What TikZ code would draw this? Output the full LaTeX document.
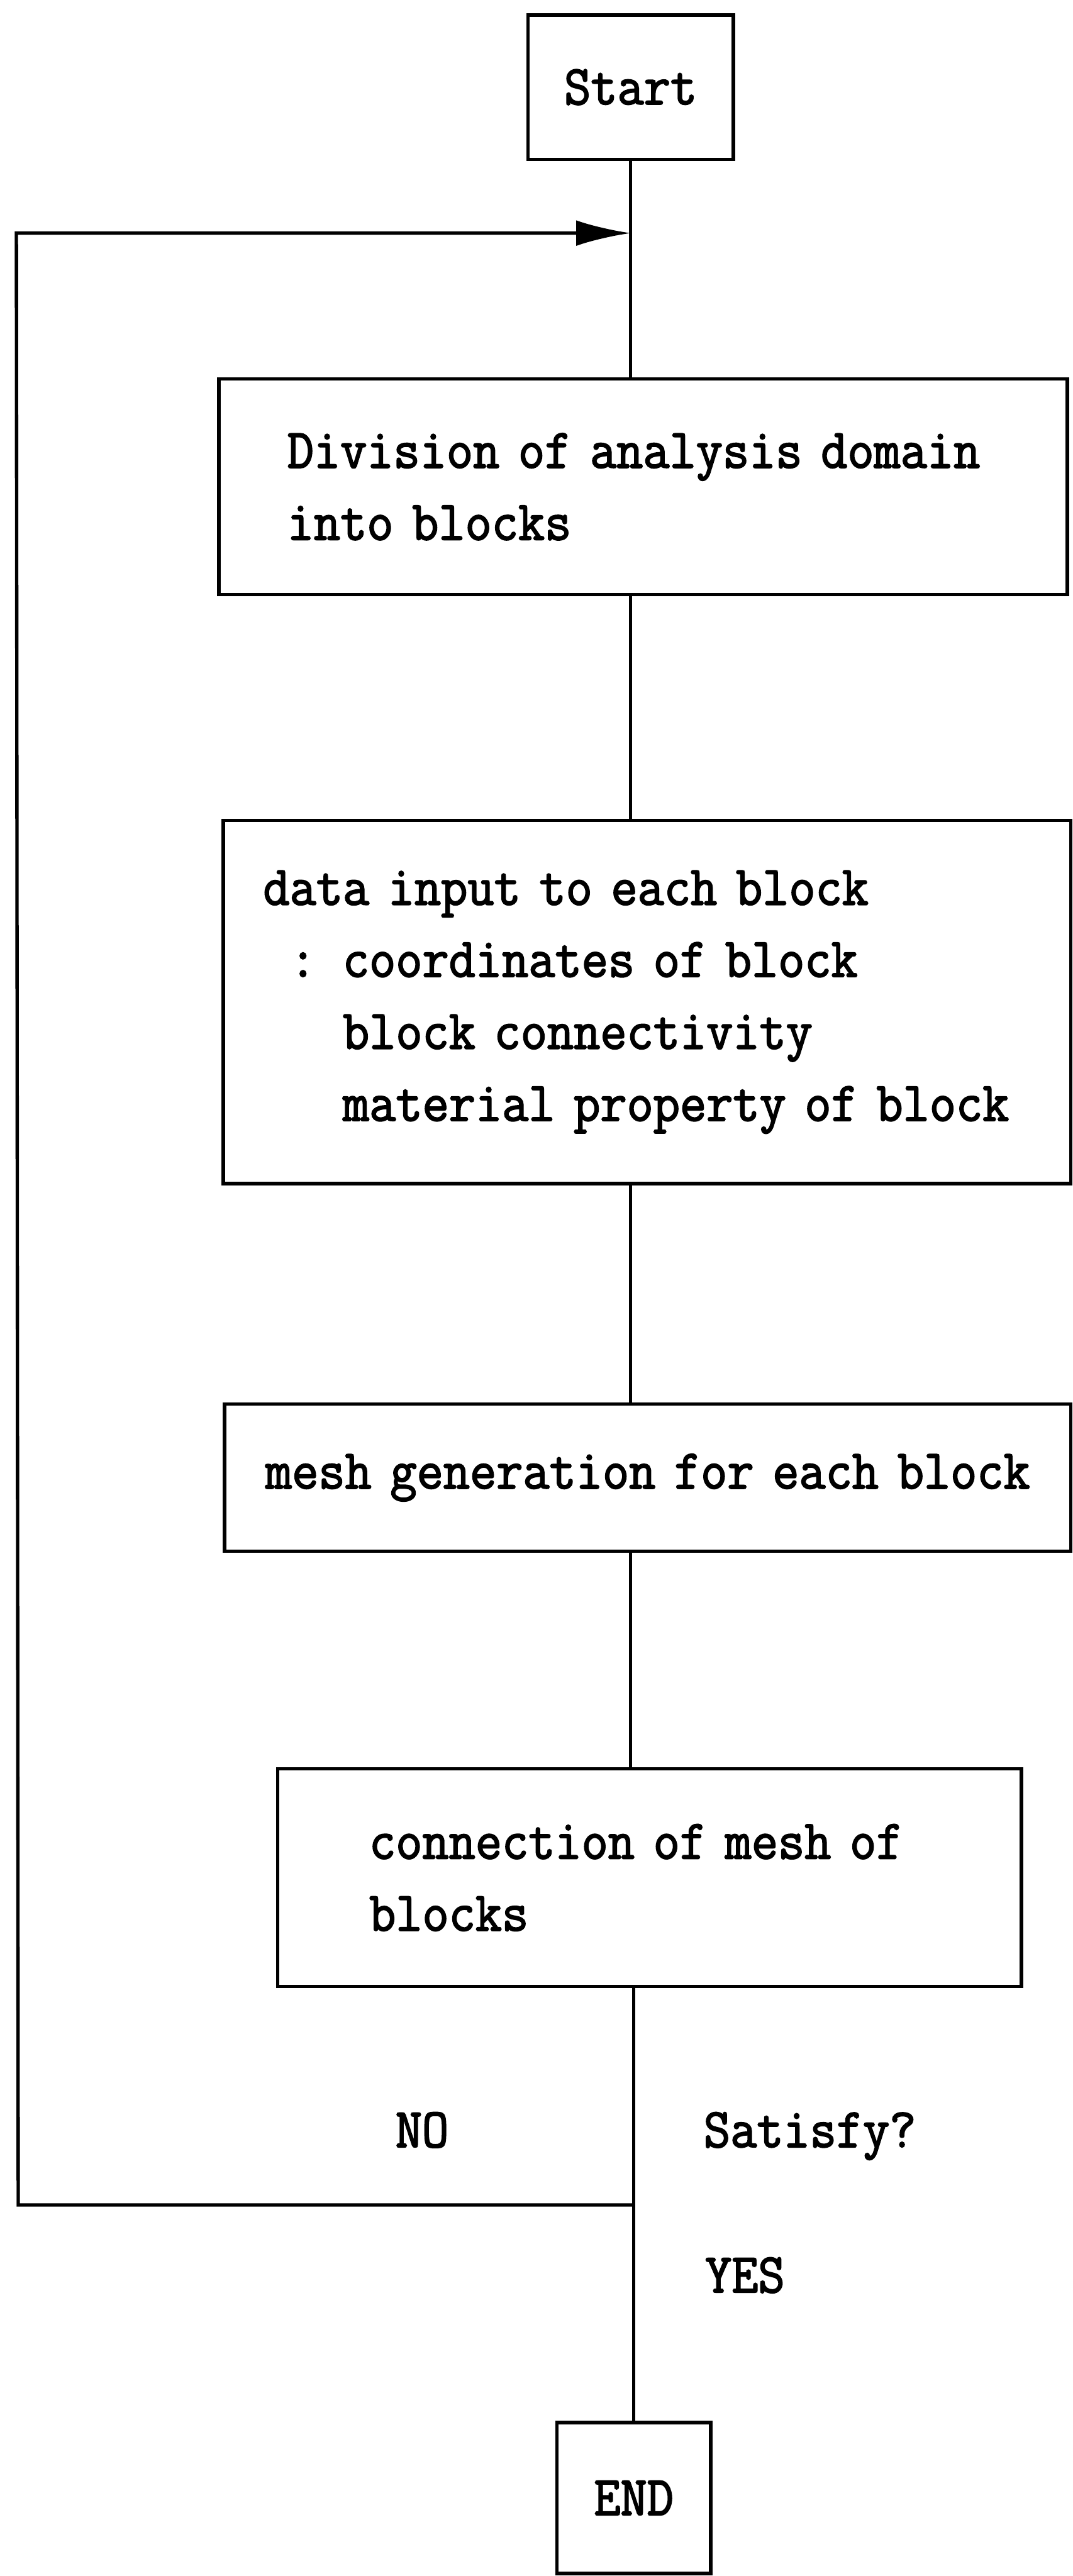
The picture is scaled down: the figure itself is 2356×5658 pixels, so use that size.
\documentclass[tikz,border=0pt]{standalone}
\usepackage{fontspec}
% monospaced serif, condensed; word spaces kept equal to one character cell
\setmainfont[FakeStretch=0.92,FakeBold=2.2,WordSpace={0.92,0,0}]{Latin Modern Mono}
\usetikzlibrary{arrows.meta}
\begin{document}
\begin{tikzpicture}[x=0.1mm,y=-0.1mm,
  every node/.style={font=\fontsize{35}{45}\selectfont},
  flowbox/.style={draw,line width=2.2pt,rectangle,inner ysep=0pt,align=left,anchor=center},
  termbox/.style={draw,line width=2.2pt,rectangle,inner sep=0pt,anchor=center},
  link/.style={line width=2.1pt},
  tag/.style={anchor=base west,inner sep=0pt}]
\useasboundingbox (0,0) rectangle (2356,5658);

% terminal boxes
\node[termbox,minimum width=45.1mm,minimum height=31.7mm] (start) at (1385,191.5) {Start};
\node[termbox,minimum width=33.8mm,minimum height=33.1mm] (end) at (1392,5486.5) {END};

% process boxes
\node[flowbox,minimum width=186.3mm,minimum height=47.4mm,inner xsep=15mm,text width=156.3mm]
  (b1) at (1412.5,1069) {Division of analysis domain\\into blocks};
\node[flowbox,minimum width=186.2mm,minimum height=79.8mm,inner xsep=8.8mm,text width=168.6mm]
  (b2) at (1421,2201) {data input to each block\\
  \hphantom{x}:\hphantom{x}coordinates of block\\
  \hphantom{xxx}block connectivity\\
  \hphantom{xxx}material property of block};
\node[flowbox,minimum width=185.9mm,minimum height=32.3mm,inner xsep=9mm,text width=167.9mm]
  (b3) at (1422.5,3245.5) {\hbox{mesh generation for each block}};
\node[flowbox,minimum width=163.3mm,minimum height=47.8mm,inner xsep=20.1mm,text width=123.1mm]
  (b4) at (1426.5,4124) {connection of mesh of\\blocks};

% decision labels
\node[tag] (no) at (868,4716) {NO};
\node[tag] (satisfy) at (1545,4716) {Satisfy?};
\node[tag] (yes) at (1548,5035) {YES};

% junctions of the main line and the return loop
\coordinate (merge) at (1388,512);
\coordinate (turn) at (1392,4843);
\coordinate (lb) at (40,4843);
\coordinate (lt) at (36,512);

% main flow
\draw[link] (start.south) -- (start.south |- merge) -- (b1.north -| start.south);
\draw[link] (b1.south -| start.south) -- (b2.north -| start.south);
\draw[link] (b2.south -| start.south) -- (b3.north -| start.south);
\draw[link] (b3.south -| start.south) -- (b4.north -| start.south);
\draw[link] (b4.south -| end.north) -- (end.north);

% return loop
\draw[link,-{Latex[length=34pt,width=16pt]}] (turn) -- (lb) -- (lt) -- (start.south |- merge);
\end{tikzpicture}
\end{document}
